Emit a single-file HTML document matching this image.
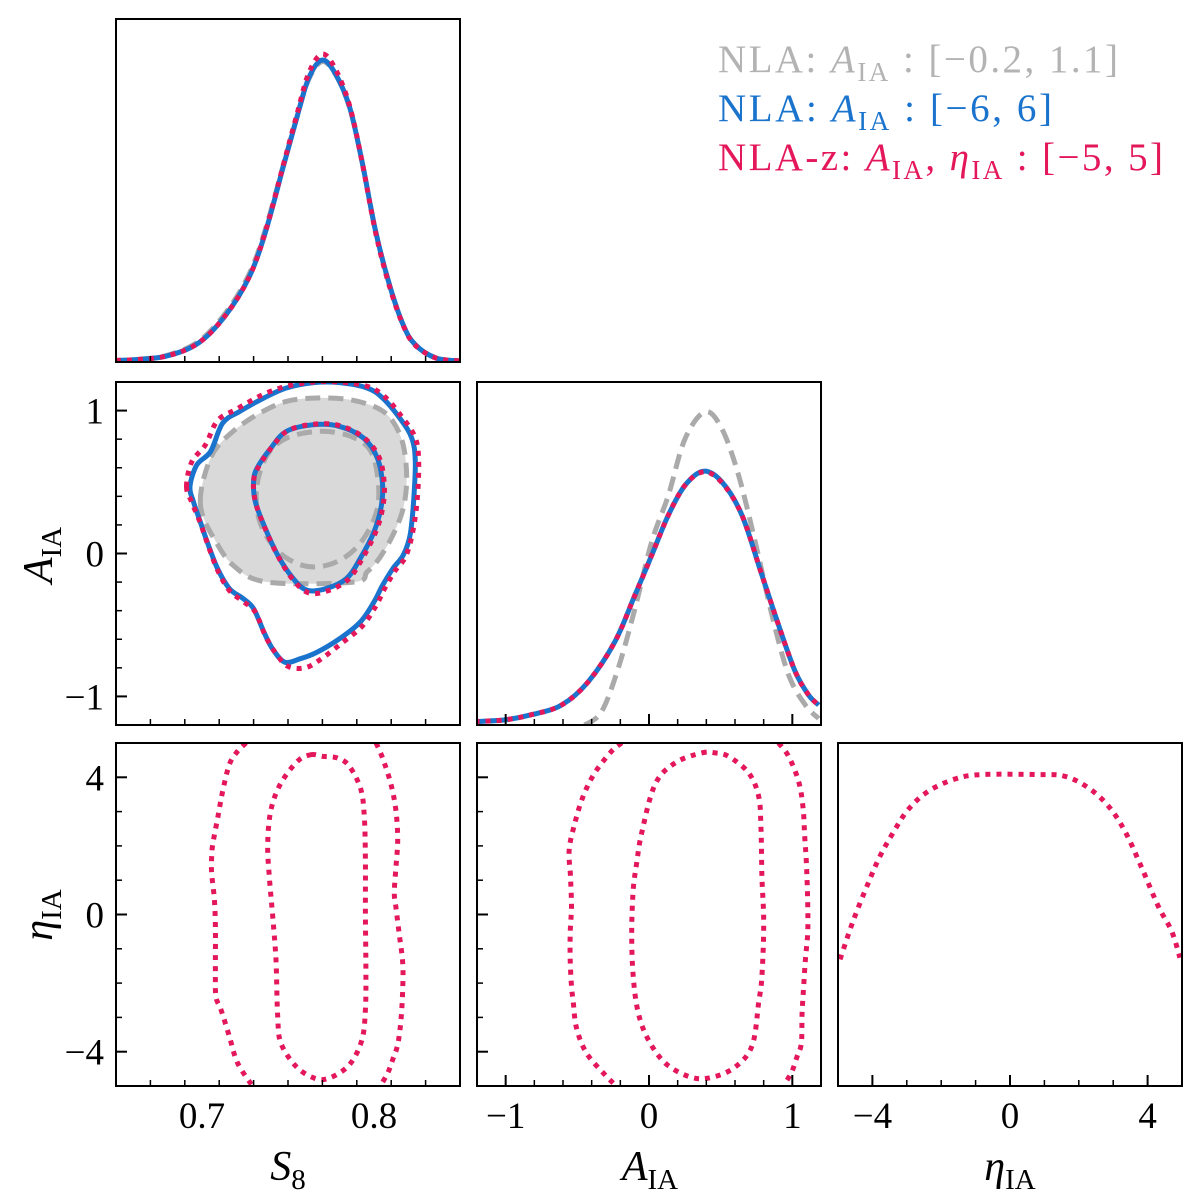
<!DOCTYPE html>
<html><head><meta charset="utf-8">
<style>
body{margin:0;background:#fff;}
svg{display:block;font-family:"Liberation Serif","DejaVu Serif",serif;}
</style></head>
<body>
<svg id="fig" width="1200" height="1201" viewBox="0 0 1200 1201" xmlns="http://www.w3.org/2000/svg">
<g id="legend" font-size="39">
<text x="718" y="72" fill="#b3b3b3" textLength="400" lengthAdjust="spacing">NLA: <tspan font-style="italic">A</tspan><tspan font-size="27" dy="9">IA</tspan><tspan dy="-9"> :  [−0.2, 1.1]</tspan></text>
<text x="718" y="121" fill="#1a73cc" textLength="334" lengthAdjust="spacing">NLA: <tspan font-style="italic">A</tspan><tspan font-size="27" dy="9">IA</tspan><tspan dy="-9"> :  [−6, 6]</tspan></text>
<text x="718" y="170" fill="#e3175a" textLength="445" lengthAdjust="spacing">NLA-z:  <tspan font-style="italic">A</tspan><tspan font-size="27" dy="9">IA</tspan><tspan dy="-9">, </tspan><tspan font-style="italic">η</tspan><tspan font-size="27" dy="9">IA</tspan><tspan dy="-9"> :  [−5, 5]</tspan></text>
</g>
</svg>
<script>
// ---------- data ----------
const s8Range=[0.65,0.85], aRange=[-1.2,1.2], etaRange=[-5,5];
const s8TickLabels=["0.7","0.8"], s8TickVals=[0.7,0.8];
const aTickLabels=["-1","0","1"], aTickVals=[-1,0,1];
const etaTickLabels=["-4","0","4"], etaTickVals=[-4,0,4];

// 1D S8 posterior
const s8Grid=[0.65,0.6597,0.679,0.698,0.714,0.7275,0.737,0.747,0.755,0.762,0.770,0.778,0.786,0.793,0.801,0.809,0.817,0.824,0.836,0.850];
const s8Blue=[0.002,0.004,0.016,0.06,0.154,0.28,0.43,0.64,0.806,0.939,1.0,0.95,0.84,0.663,0.43,0.253,0.12,0.054,0.01,0.0];
const s8Grey=[0.002,0.004,0.018,0.065,0.162,0.29,0.44,0.645,0.806,0.935,0.995,0.948,0.84,0.663,0.43,0.253,0.12,0.054,0.01,0.0];
const s8Red=[0.002,0.004,0.016,0.06,0.154,0.28,0.432,0.645,0.815,0.955,1.02,0.965,0.845,0.663,0.425,0.248,0.118,0.052,0.01,0.0];

// 1D A_IA posterior (fraction of panel height)
const aGridBlue=[-1.217,-1.007,-0.82,-0.611,-0.424,-0.238,-0.098,0.019,0.135,0.252,0.380,0.508,0.648,0.788,0.904,1.021,1.114,1.184];
const aBlue=[0.01,0.015,0.03,0.058,0.126,0.243,0.379,0.495,0.612,0.699,0.74,0.709,0.612,0.437,0.291,0.155,0.087,0.058];
const aRed=[0.01,0.015,0.03,0.058,0.126,0.243,0.379,0.495,0.612,0.699,0.738,0.707,0.612,0.437,0.291,0.155,0.087,0.058];
const aGridGrey=[-0.448,-0.331,-0.215,-0.098,0.019,0.135,0.252,0.392,0.508,0.625,0.741,0.858,0.974,1.091,1.184];
const aGrey=[0.0,0.039,0.165,0.34,0.534,0.67,0.835,0.913,0.864,0.728,0.534,0.32,0.146,0.058,0.019];

// 1D eta posterior
const etaGrid=[-4.94,-4.56,-4.12,-3.78,-3.39,-2.96,-2.38,-1.60,-0.83,0.82,1.60,2.28,2.86,3.34,3.83,4.31,4.70,4.94];
const etaRed=[0.369,0.481,0.592,0.670,0.740,0.806,0.859,0.895,0.908,0.908,0.903,0.869,0.816,0.743,0.636,0.524,0.451,0.374];

// S8 - A_IA contours
const blueOuterS8=[0.693,0.697,0.705,0.712,0.722,0.736,0.749,0.765,0.780,0.796,0.805,0.815,0.822,0.824,0.823,0.821,0.817,0.811,0.805,0.800,0.792,0.780,0.767,0.757,0.748,0.741,0.736,0.730,0.724,0.716,0.709,0.703,0.699,0.695];
const blueOuterA=[0.468,0.620,0.714,0.912,0.994,1.088,1.158,1.195,1.195,1.158,1.088,0.947,0.807,0.643,0.363,0.129,-0.012,-0.105,-0.222,-0.339,-0.480,-0.596,-0.690,-0.737,-0.760,-0.667,-0.550,-0.386,-0.316,-0.246,-0.105,0.082,0.222,0.363];
const redOuterS8=[0.691,0.694,0.702,0.709,0.720,0.735,0.749,0.765,0.780,0.796,0.806,0.816,0.824,0.826,0.825,0.822,0.818,0.812,0.806,0.801,0.793,0.781,0.769,0.760,0.750,0.743,0.737,0.731,0.724,0.716,0.709,0.703,0.699,0.694];
const redOuterA=[0.468,0.640,0.760,0.930,1.010,1.110,1.170,1.200,1.200,1.170,1.100,0.960,0.810,0.640,0.360,0.120,-0.030,-0.125,-0.250,-0.370,-0.510,-0.630,-0.740,-0.800,-0.790,-0.700,-0.580,-0.410,-0.336,-0.260,-0.115,0.075,0.215,0.360];
const blueInnerS8=[0.730,0.732,0.740,0.749,0.765,0.780,0.794,0.802,0.805,0.804,0.800,0.792,0.784,0.772,0.761,0.753,0.744,0.736,0.731];
const blueInnerA=[0.503,0.596,0.737,0.854,0.901,0.889,0.807,0.667,0.480,0.316,0.152,-0.035,-0.175,-0.246,-0.257,-0.175,-0.012,0.199,0.363];
const redInnerS8=[0.730,0.733,0.741,0.750,0.765,0.780,0.794,0.803,0.806,0.805,0.801,0.793,0.785,0.773,0.762,0.753,0.744,0.736,0.731];
const redInnerA=[0.510,0.610,0.750,0.860,0.905,0.895,0.812,0.672,0.483,0.318,0.150,-0.040,-0.182,-0.262,-0.275,-0.185,-0.015,0.195,0.365];
const greyOuterS8=[0.699,0.701,0.707,0.718,0.732,0.749,0.767,0.786,0.802,0.811,0.817,0.819,0.817,0.811,0.803,0.796,0.788,0.738,0.718,0.707,0.701];
const greyOuterA=[0.363,0.526,0.714,0.854,0.971,1.064,1.088,1.076,1.018,0.924,0.760,0.526,0.316,0.129,-0.035,-0.129,-0.2,-0.2,-0.082,0.105,0.246];
const greyInnerS8=[0.732,0.738,0.749,0.767,0.784,0.797,0.802,0.802,0.794,0.782,0.767,0.753,0.741,0.733];
const greyInnerA=[0.480,0.690,0.807,0.854,0.830,0.737,0.550,0.316,0.105,-0.035,-0.094,-0.058,0.058,0.246];

// S8 - eta contours (open outer edges)
const seOuterLeftS8=[0.7256,0.7207,0.7159,0.712,0.7091,0.7062,0.7056,0.7056,0.7072,0.7078,0.7078,0.7081,0.711,0.7159,0.7207,0.7295];
const seOuterLeftEta=[5,4.76,4.37,3.59,2.81,2.04,1.65,1.21,0.43,-0.35,-1.61,-2.39,-2.77,-3.55,-4.33,-5.01];
const seOuterRightS8=[0.8012,0.805,0.8099,0.8128,0.8138,0.8128,0.8118,0.8128,0.8147,0.8167,0.8167,0.8157,0.8138,0.8109,0.808,0.8041];
const seOuterRightEta=[5,4.56,3.79,3.01,2.18,1.40,0.63,0.19,-0.59,-1.41,-2.19,-3.07,-3.79,-4.23,-4.62,-4.96];
const seInnerS8=[0.7634,0.7702,0.7789,0.7857,0.7924,0.7944,0.795,0.795,0.7953,0.795,0.793,0.7857,0.774,0.7653,0.7547,0.7459,0.744,0.743,0.7411,0.7391,0.7382,0.7401,0.7459,0.7556];
const seInnerEta=[4.66,4.61,4.56,4.32,3.64,2.81,1.60,0,-1.61,-2.77,-3.65,-4.38,-4.77,-4.77,-4.43,-3.75,-2.97,-1.32,-0.05,1.11,2.08,3.06,3.83,4.47];

// A - eta contours
const aeOuterLeftA=[-0.191,-0.261,-0.378,-0.459,-0.517,-0.557,-0.548,-0.541,-0.550,-0.550,-0.541,-0.529,-0.506,-0.436,-0.308,-0.238];
const aeOuterLeftEta=[5,4.76,4.13,3.45,2.67,1.89,1.11,0.24,-0.54,-1.32,-2.09,-2.53,-3.31,-4.04,-4.67,-4.96];
const aeOuterRightA=[0.904,0.974,1.044,1.075,1.086,1.098,1.107,1.107,1.091,1.079,1.068,1.063,1.033,0.998,0.951];
const aeOuterRightEta=[5,4.61,3.88,3.10,2.28,1.50,0.34,-0.54,-1.32,-2.09,-2.87,-3.75,-4.14,-4.57,-4.91];
const aeInnerA=[0.368,0.462,0.555,0.695,0.765,0.781,0.788,0.800,0.788,0.765,0.718,0.590,0.415,0.275,0.112,-0.005,-0.075,-0.110,-0.121,-0.110,-0.086,-0.051,0.042,0.182];
const aeInnerEta=[4.71,4.71,4.61,4.13,3.45,2.57,1.11,-0.25,-1.80,-2.58,-3.84,-4.48,-4.77,-4.72,-4.33,-3.65,-2.87,-1.80,-0.54,0.72,1.50,2.38,3.79,4.42];

// ---------- layout ----------
const NS="http://www.w3.org/2000/svg";
const svg=document.getElementById('fig');
const COL=[116,477,838], ROW=[19,382,743], W=344, H=343;
const BLUE="#1a73cc", RED="#e3175a", GREY="#aaaaaa", FILL="#d9d9d9";
function mk(tag,attrs,parent){const e=document.createElementNS(NS,tag);for(const k in attrs)e.setAttribute(k,attrs[k]);(parent||svg).appendChild(e);return e;}
function scale(r,p0,p1){return v=>p0+(v-r[0])/(r[1]-r[0])*(p1-p0);}
function smoothPath(pts,closed){
  const n=pts.length;let d="M"+pts[0][0].toFixed(1)+","+pts[0][1].toFixed(1);
  const last=closed?n:n-1;
  for(let i=0;i<last;i++){
    const p0=pts[closed?(i-1+n)%n:Math.max(i-1,0)],p1=pts[i],p2=pts[(i+1)%n],p3=pts[closed?(i+2)%n:Math.min(i+2,n-1)];
    const c1=[p1[0]+(p2[0]-p0[0])/6,p1[1]+(p2[1]-p0[1])/6],c2=[p2[0]-(p3[0]-p1[0])/6,p2[1]-(p3[1]-p1[1])/6];
    d+="C"+c1[0].toFixed(1)+","+c1[1].toFixed(1)+" "+c2[0].toFixed(1)+","+c2[1].toFixed(1)+" "+p2[0].toFixed(1)+","+p2[1].toFixed(1);
  }
  return d+(closed?"Z":"");
}
function panel(c,r,name){
  const g=mk('g',{});
  
  
  const cp=mk('clipPath',{id:'cp'+c+r},g);
  mk('rect',{x:COL[c],y:ROW[r],width:W,height:H},cp);
  const inner=mk('g',{'clip-path':'url(#cp'+c+r+')'},g);
  return {g,inner,x0:COL[c],y0:ROW[r]};
}
function style(kind){
  if(kind==='blue')return {stroke:BLUE,'stroke-width':5,fill:'none'};
  if(kind==='red')return {stroke:RED,'stroke-width':5,fill:'none','stroke-dasharray':'5 6'};
  return {stroke:GREY,'stroke-width':5,fill:'none','stroke-dasharray':'15 8'};
}
function curve(parent,xs,ys,sx,sy,kind,closed,name){
  const pts=xs.map((v,i)=>[sx(v),sy(ys[i])]);
  const p=mk('path',Object.assign({d:smoothPath(pts,closed)},style(kind)),parent);
  
  
  return p;
}
function frame(P){const f=mk('rect',{x:P.x0,y:P.y0,width:W,height:H,fill:'none',stroke:'#000','stroke-width':2},P.g);
  
  }
function xTicks(P,range,step,majors,sx){
  const n=Math.round((range[1]-range[0])/step);
  for(let i=0;i<=n;i++){const v=range[0]+i*step;const isMaj=majors.some(m=>Math.abs(m-v)<1e-6);
    const x=sx(v);if(x<P.x0+2||x>P.x0+W-2)continue;
    mk('line',{x1:x,x2:x,y1:P.y0+H,y2:P.y0+H-(isMaj?11:6),stroke:'#000','stroke-width':isMaj?2:1.5},P.g);}
}
function yTicks(P,range,step,majors,sy){
  const n=Math.round((range[1]-range[0])/step);
  for(let i=0;i<=n;i++){const v=range[0]+i*step;const isMaj=majors.some(m=>Math.abs(m-v)<1e-6);
    const y=sy(v);if(y<P.y0+2||y>P.y0+H-2)continue;
    mk('line',{x1:P.x0,x2:P.x0+(isMaj?11:6),y1:y,y2:y,stroke:'#000','stroke-width':isMaj?2:1.5},P.g);}
}
function xLabels(vals,labels,sx,name){vals.forEach((v,i)=>{const t=mk('text',{x:sx(v),y:1128,'font-size':37,'text-anchor':'middle'});t.textContent=labels[i].replace('-','−');
  
  });}
function yLabels(vals,labels,sy,name){vals.forEach((v,i)=>{const t=mk('text',{x:104,y:sy(v)+13,'font-size':37,'text-anchor':'end'});t.textContent=labels[i].replace('-','−');
  
  });}

// scales
const sxS8=scale(s8Range,COL[0],COL[0]+W);
const sxA=scale(aRange,COL[1],COL[1]+W);
const sxEta=scale(etaRange,COL[2],COL[2]+W);
const syA=scale(aRange,ROW[1]+H,ROW[1]);
const syEta=scale(etaRange,ROW[2]+H,ROW[2]);
const syDens1=v=>ROW[0]+H-1-v*301;
const syDens2=v=>ROW[1]+H-v*H;
const syDens3=v=>ROW[2]+H-v*H;

// Panel (0,0): S8 1D
let P=panel(0,0,'s8-marginal-panel');
curve(P.inner,s8Grid,s8Grey,sxS8,syDens1,'grey',false,'s8-marginal-nla-narrow');
curve(P.inner,s8Grid,s8Blue,sxS8,syDens1,'blue',false,'s8-marginal-nla-wide');
curve(P.inner,s8Grid,s8Red,sxS8,syDens1,'red',false,'s8-marginal-nla-z');
xTicks(P,s8Range,0.02,s8TickVals,sxS8);frame(P);

// Panel (0,1): S8 vs A
P=panel(0,1,'s8-aia-contour-panel');
(function(){const pts=greyOuterS8.map((v,i)=>[sxS8(v),syA(greyOuterA[i])]);
 const f=mk('path',{d:smoothPath(pts,true),fill:FILL,stroke:'none'},P.inner);
 
 })();
curve(P.inner,greyOuterS8,greyOuterA,sxS8,syA,'grey',true,'nla-narrow-outer-contour');
curve(P.inner,greyInnerS8,greyInnerA,sxS8,syA,'grey',true,'nla-narrow-inner-contour');
curve(P.inner,blueOuterS8,blueOuterA,sxS8,syA,'blue',true,'nla-wide-outer-contour');
curve(P.inner,blueInnerS8,blueInnerA,sxS8,syA,'blue',true,'nla-wide-inner-contour');
curve(P.inner,redOuterS8,redOuterA,sxS8,syA,'red',true,'nla-z-outer-contour');
curve(P.inner,redInnerS8,redInnerA,sxS8,syA,'red',true,'nla-z-inner-contour');
xTicks(P,s8Range,0.02,s8TickVals,sxS8);yTicks(P,aRange,0.2,aTickVals,syA);frame(P);
yLabels(aTickVals,aTickLabels,syA,'aia-y');

// Panel (1,1): A 1D
P=panel(1,1,'aia-marginal-panel');
curve(P.inner,aGridGrey,aGrey,sxA,syDens2,'grey',false,'aia-marginal-nla-narrow');
curve(P.inner,aGridBlue,aBlue,sxA,syDens2,'blue',false,'aia-marginal-nla-wide');
curve(P.inner,aGridBlue,aRed,sxA,syDens2,'red',false,'aia-marginal-nla-z');
xTicks(P,aRange,0.2,aTickVals,sxA);frame(P);

// Panel (0,2): S8 vs eta
P=panel(0,2,'s8-eta-contour-panel');
curve(P.inner,seOuterLeftS8,seOuterLeftEta,sxS8,syEta,'red',false,'s8-eta-outer-left');
curve(P.inner,seOuterRightS8,seOuterRightEta,sxS8,syEta,'red',false,'s8-eta-outer-right');
curve(P.inner,seInnerS8,seInnerEta,sxS8,syEta,'red',true,'s8-eta-inner-contour');
xTicks(P,s8Range,0.02,s8TickVals,sxS8);yTicks(P,etaRange,1,etaTickVals,syEta);frame(P);
yLabels(etaTickVals,etaTickLabels,syEta,'eta-y');
xLabels(s8TickVals,s8TickLabels,sxS8,'s8-x');

// Panel (1,2): A vs eta
P=panel(1,2,'aia-eta-contour-panel');
curve(P.inner,aeOuterLeftA,aeOuterLeftEta,sxA,syEta,'red',false,'aia-eta-outer-left');
curve(P.inner,aeOuterRightA,aeOuterRightEta,sxA,syEta,'red',false,'aia-eta-outer-right');
curve(P.inner,aeInnerA,aeInnerEta,sxA,syEta,'red',true,'aia-eta-inner-contour');
xTicks(P,aRange,0.2,aTickVals,sxA);yTicks(P,etaRange,1,etaTickVals,syEta);frame(P);
xLabels(aTickVals,aTickLabels,sxA,'aia-x');

// Panel (2,2): eta 1D
P=panel(2,2,'eta-marginal-panel');
curve(P.inner,etaGrid,etaRed,sxEta,syDens3,'red',false,'eta-marginal-nla-z');
xTicks(P,etaRange,1,etaTickVals,sxEta);frame(P);
xLabels(etaTickVals,etaTickLabels,sxEta,'eta-x');

// axis titles
function title(x,y,main,sub,rot,name){
  const t=mk('text',{x:x,y:y,'font-size':42,'text-anchor':'middle'});
  if(rot)t.setAttribute('transform','rotate(-90 '+x+' '+y+')');
  const a=mk('tspan',{'font-style':'italic'},t);a.textContent=main;
  const b=mk('tspan',{'font-size':29,dy:9},t);b.textContent=sub;
  
  
}
title(288,1180,'S','8',false,'x-axis-title-s8');
title(650,1180,'A','IA',false,'x-axis-title-aia');
title(1010,1180,'η','IA',false,'x-axis-title-eta');
title(52,555,'A','IA',true,'y-axis-title-aia');
title(52,915,'η','IA',true,'y-axis-title-eta');
</script>
</body></html>
